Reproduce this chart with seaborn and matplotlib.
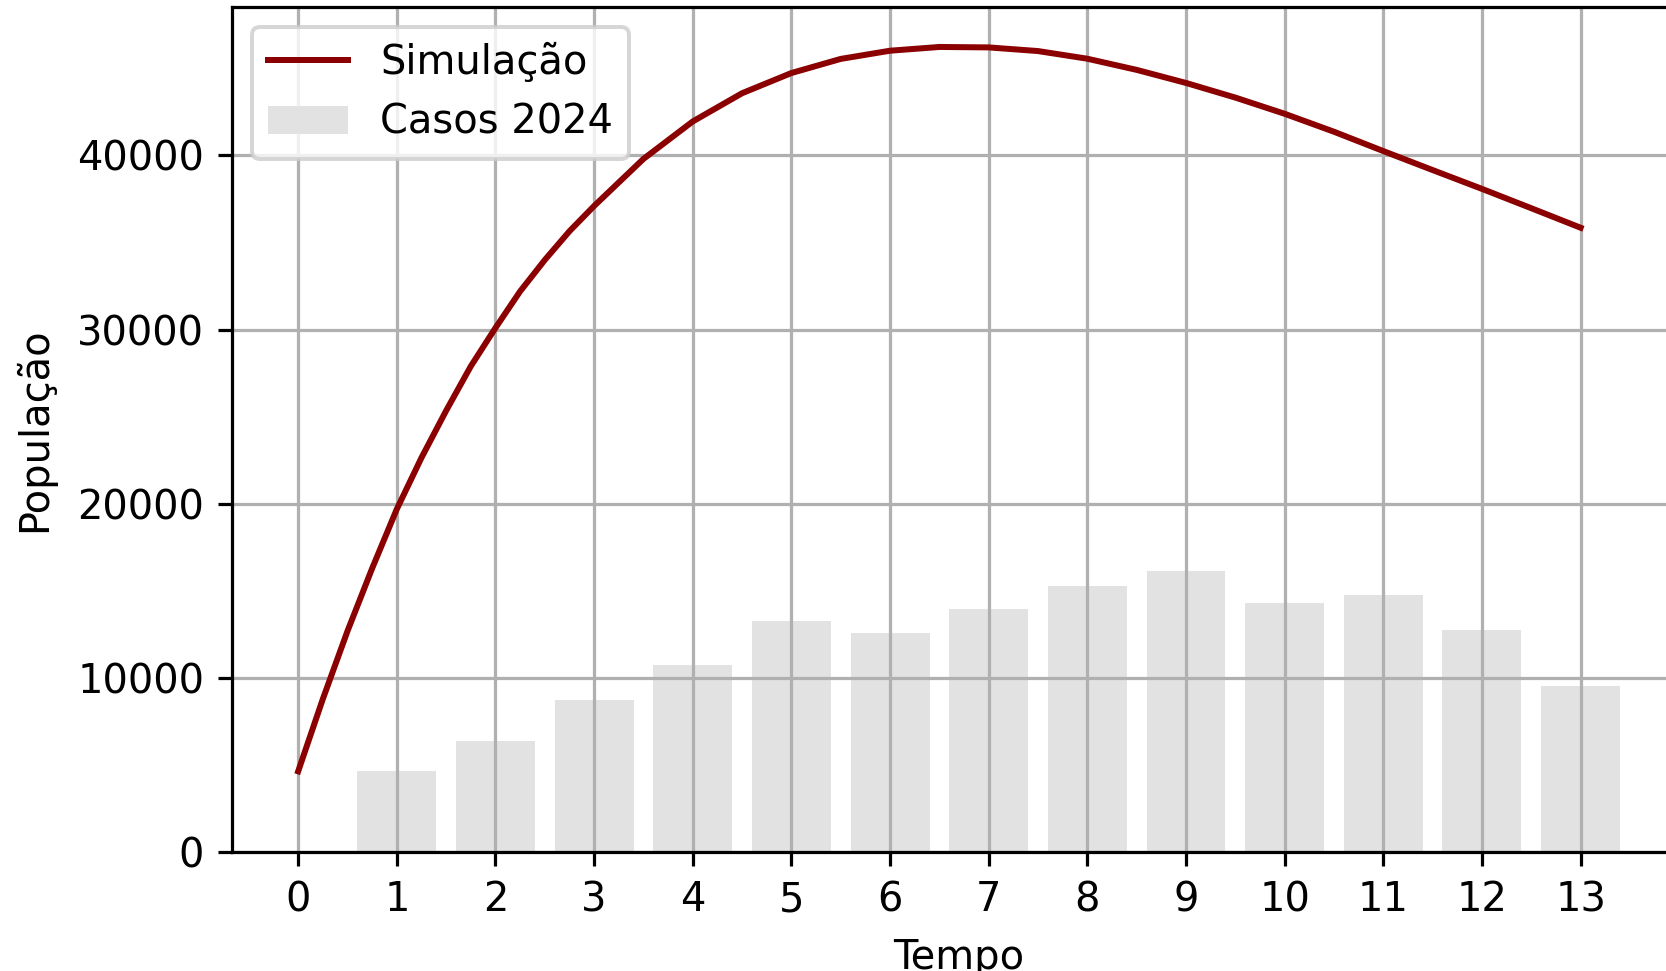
import matplotlib
matplotlib.use("Agg")
import matplotlib.pyplot as plt
import seaborn as sns

# --- data ---
sim_t = [0, 0.25, 0.5, 0.75, 1, 1.25, 1.5, 1.75, 2, 2.25, 2.5, 2.75, 3,
         3.5, 4, 4.5, 5, 5.5, 6, 6.5, 7, 7.5,
         8, 8.5, 9, 9.5, 10, 10.5, 11, 11.5, 12, 12.5, 13]
sim_pop = [4650, 8800, 12700, 16300, 19700, 22650, 25350, 27900, 30100,
           32200, 34000, 35650, 37100,
           39800, 41950, 43570, 44730, 45540, 46010, 46225, 46200, 45990,
           45550, 44910, 44160, 43320, 42390, 41360, 40250, 39160, 38080,
           36970, 35850]

case_t = [1, 2, 3, 4, 5, 6, 7, 8, 9, 10, 11, 12, 13]
cases_2024 = [4650, 6380, 8750, 10750, 13280, 12600, 13970, 15290, 16150,
              14310, 14770, 12770, 9560]

xticks = list(range(14))

line_label = "Simulação"
bar_label = "Casos 2024"
x_label = "Tempo"
y_label = "População"

# --- figure ---
DPI = 288
fig = plt.figure(figsize=(1666 / DPI, 971 / DPI), dpi=DPI)
ax = fig.add_axes([0.1393, 0.1222, 0.8728, 0.8709])

sns.lineplot(x=sim_t, y=sim_pop, ax=ax, color="#8b0000", linewidth=1.5,
             label=line_label)
sns.barplot(x=case_t, y=cases_2024, ax=ax, native_scale=True,
            color="#e2e2e2", saturation=1, errorbar=None,
            linewidth=0, edgecolor="none", label=bar_label)

ax.set_xticks(xticks)
ax.set_xticklabels([str(v) for v in xticks])
ax.grid(True)
ax.set_xlabel(x_label, labelpad=4.5)
ax.set_ylabel(y_label, labelpad=5.5)
ax.legend(loc="upper left")

fig.savefig("out.png", dpi=DPI)
